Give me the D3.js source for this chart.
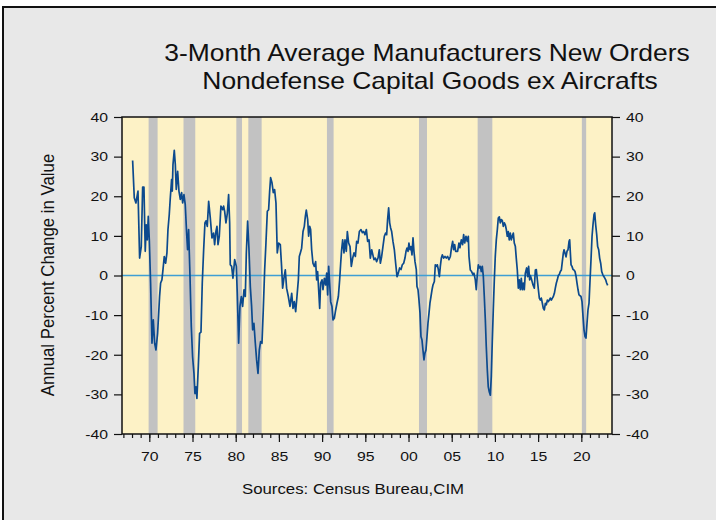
<!DOCTYPE html>
<html>
<head>
<meta charset="utf-8">
<script src="https://cdn.jsdelivr.net/npm/d3@7"></script>
<style>
  body { margin: 0; background: #fff; }
  svg { display: block; font-family: "Liberation Sans", Arial, sans-serif; }
</style>
</head>
<body>
<svg id="chart" width="716" height="520"></svg>
<script>
const years = [
  1968.07, 1968.26, 1968.45, 1968.69, 1968.88, 1969.07, 1969.23, 1969.38, 1969.53, 1969.65, 1969.77, 1969.88,
  1970.00, 1970.15, 1970.31, 1970.46, 1970.62, 1970.77, 1970.96, 1971.19, 1971.31, 1971.46, 1971.58, 1971.73,
  1971.89, 1972.04, 1972.16, 1972.31, 1972.43, 1972.58, 1972.66, 1972.74, 1972.89, 1973.01, 1973.12, 1973.28,
  1973.43, 1973.59, 1973.74, 1973.86, 1974.01, 1974.16, 1974.32, 1974.43, 1974.55, 1974.70, 1974.86, 1975.01,
  1975.17, 1975.28, 1975.40, 1975.51, 1975.67, 1975.82, 1975.98, 1976.13, 1976.29, 1976.44, 1976.56, 1976.71,
  1976.87, 1977.06, 1977.25, 1977.44, 1977.56, 1977.71, 1977.83, 1977.95, 1978.10, 1978.29, 1978.49, 1978.60,
  1978.72, 1978.87, 1979.03, 1979.18, 1979.30, 1979.37, 1979.53, 1979.68, 1979.88, 1980.07, 1980.18, 1980.34,
  1980.49, 1980.65, 1980.80, 1980.96, 1981.11, 1981.23, 1981.38, 1981.53, 1981.69, 1981.84, 1981.96, 1982.11,
  1982.27, 1982.42, 1982.58, 1982.73, 1982.88, 1983.04, 1983.19, 1983.35, 1983.50, 1983.66, 1983.81, 1983.93,
  1984.04, 1984.20, 1984.35, 1984.50, 1984.66, 1984.81, 1984.97, 1985.16, 1985.31, 1985.43, 1985.58, 1985.74,
  1985.89, 1986.09, 1986.28, 1986.48, 1986.63, 1986.78, 1986.94, 1987.09, 1987.25, 1987.36, 1987.48, 1987.63,
  1987.79, 1987.94, 1988.06, 1988.17, 1988.33, 1988.44, 1988.56, 1988.67, 1988.79, 1988.94, 1989.10, 1989.25,
  1989.37, 1989.48, 1989.60, 1989.72, 1989.83, 1989.99, 1990.10, 1990.26, 1990.41, 1990.53, 1990.64, 1990.76,
  1990.87, 1990.99, 1991.14, 1991.26, 1991.41, 1991.57, 1991.72, 1991.88, 1992.03, 1992.15, 1992.26, 1992.38,
  1992.53, 1992.65, 1992.80, 1992.92, 1993.07, 1993.23, 1993.38, 1993.54, 1993.69, 1993.85, 1994.00, 1994.15,
  1994.31, 1994.50, 1994.66, 1994.81, 1994.96, 1995.12, 1995.27, 1995.43, 1995.58, 1995.74, 1996.00, 1996.16,
  1996.31, 1996.47, 1996.62, 1996.74, 1996.89, 1997.04, 1997.20, 1997.35, 1997.47, 1997.58, 1997.70, 1997.82,
  1997.93, 1998.05, 1998.20, 1998.36, 1998.51, 1998.67, 1998.82, 1998.97, 1999.13, 1999.28, 1999.44, 1999.59,
  1999.71, 1999.82, 1999.94, 2000.05, 2000.17, 2000.29, 2000.40, 2000.52, 2000.63, 2000.75, 2000.90, 2000.98,
  2001.10, 2001.21, 2001.33, 2001.44, 2001.56, 2001.67, 2001.79, 2001.90, 2002.02, 2002.14, 2002.25, 2002.37,
  2002.48, 2002.60, 2002.72, 2002.83, 2002.99, 2003.10, 2003.22, 2003.33, 2003.45, 2003.57, 2003.68, 2003.80,
  2003.91, 2004.07, 2004.22, 2004.37, 2004.53, 2004.68, 2004.84, 2004.99, 2005.11, 2005.22, 2005.34, 2005.46,
  2005.68, 2005.84, 2005.95, 2006.11, 2006.26, 2006.38, 2006.50, 2006.65, 2006.80, 2006.92, 2007.00, 2007.15,
  2007.30, 2007.46, 2007.57, 2007.73, 2007.84, 2007.96, 2008.08, 2008.19, 2008.31, 2008.42, 2008.54, 2008.66,
  2008.77, 2008.89, 2009.00, 2009.12, 2009.23, 2009.35, 2009.47, 2009.58, 2009.70, 2009.81, 2009.93, 2010.04,
  2010.16, 2010.28, 2010.39, 2010.51, 2010.62, 2010.74, 2010.85, 2010.97, 2011.09, 2011.20, 2011.32, 2011.43,
  2011.55, 2011.66, 2011.78, 2011.90, 2012.01, 2012.13, 2012.24, 2012.36, 2012.47, 2012.59, 2012.71, 2012.82,
  2012.94, 2013.05, 2013.17, 2013.28, 2013.40, 2013.52, 2013.67, 2013.79, 2013.90, 2014.02, 2014.10, 2014.25,
  2014.41, 2014.56, 2014.68, 2014.79, 2014.91, 2015.03, 2015.14, 2015.26, 2015.37, 2015.49, 2015.60, 2015.72,
  2015.84, 2015.95, 2016.07, 2016.18, 2016.30, 2016.41, 2016.53, 2016.65, 2016.76, 2016.88, 2016.99, 2017.11,
  2017.22, 2017.34, 2017.46, 2017.57, 2017.69, 2017.80, 2017.92, 2018.00, 2018.11, 2018.23, 2018.34, 2018.46,
  2018.58, 2018.65, 2018.73, 2018.81, 2018.92, 2019.04, 2019.15, 2019.27, 2019.39, 2019.50, 2019.62, 2019.73,
  2019.85, 2019.96, 2020.08, 2020.20, 2020.31, 2020.43, 2020.54, 2020.66, 2020.77, 2020.89, 2021.01, 2021.12,
  2021.24, 2021.35, 2021.47, 2021.55, 2021.66, 2021.78, 2021.89, 2022.01, 2022.12, 2022.24, 2022.36, 2022.47,
  2022.59, 2022.70, 2022.82, 2022.93, 2023.05
];

// annual percent change in value, same order as years
const pctChange = [
  29.0, 19.6, 18.3, 21.3, 4.4, 7.3, 22.3, 22.3, 6.1, 12.8, 9.0, 14.9,
  9.0, -1.9, -17.1, -11.2, -17.1, -18.8, -14.6, -5.3, -1.9, -1.1, 1.4, 4.8,
  3.1, 5.7, 11.6, 15.4, 19.6, 24.2, 21.3, 28.0, 31.6, 28.0, 21.7, 26.3,
  21.3, 19.2, 20.9, 18.3, 20.4, 17.9, 10.7, 6.5, 11.6, 0.6, -12.9, -20.5,
  -24.7, -29.8, -28.1, -31.0, -23.0, -14.6, -14.3, -1.9, 6.5, 13.3, 13.8, 12.4,
  18.7, 14.5, 9.5, 10.7, 7.8, 11.1, 12.4, 7.8, 9.9, 17.5, 16.6, 17.5,
  16.2, 13.3, 15.7, 20.4, 13.3, 2.7, 2.3, -0.7, 4.0, 2.3, -4.5, -17.1,
  -7.8, -5.3, -7.8, -3.6, -5.3, 5.7, 13.7, 6.9, -2.8, -7.8, -13.7, -12.1,
  -17.1, -21.3, -24.7, -18.8, -16.7, -17.1, -8.7, 1.4, 8.2, 16.2, 16.6, 21.3,
  24.7, 23.4, 20.9, 21.7, 18.3, 5.7, 8.2, 7.8, 2.3, -3.2, -0.7, 1.4,
  -3.2, -5.3, -7.8, -4.5, -8.3, -6.6, -9.1, -5.3, -1.1, 4.8, 5.7, 6.9,
  11.1, 12.4, 14.9, 16.5, 14.1, 9.9, 12.4, 11.6, 6.5, 3.1, 2.3, 3.5,
  -1.1, 1.0, -3.6, -8.3, -1.9, -1.1, -3.6, -0.7, -2.4, 0.6, -4.9, 2.3,
  -1.9, -6.6, -7.8, -11.2, -10.8, -8.7, -7.0, -5.3, -1.1, 3.1, 6.5, 9.0,
  5.7, 9.0, 6.1, 11.1, 8.2, 7.3, 2.3, 4.4, 5.7, 4.8, 8.6, 8.2,
  11.1, 11.6, 10.8, 11.1, 10.3, 11.6, 8.6, 9.0, 4.4, 6.5, 4.0, 4.4,
  3.5, 4.4, 6.5, 3.1, 4.8, 7.3, 9.9, 10.7, 10.3, 14.1, 17.1, 13.3,
  12.0, 11.1, 8.6, 6.5, 3.1, -0.3, 0.6, 1.9, 1.5, 2.7, 3.1, 4.4,
  6.1, 6.9, 6.1, 8.2, 6.5, 7.3, 5.2, 9.5, 6.1, 3.5, 1.5, -2.8,
  -3.6, -6.2, -9.5, -15.4, -16.3, -18.8, -21.3, -19.6, -18.8, -15.4, -12.1, -9.5,
  -7.0, -5.3, -3.6, -2.4, -1.5, 2.7, 2.3, 2.7, 1.5, -0.3, 2.3, 4.4,
  5.2, 4.4, 4.8, 4.4, 4.8, 4.0, 4.8, 7.3, 8.6, 6.5, 7.8, 6.1,
  6.1, 8.2, 7.0, 9.0, 7.8, 10.3, 8.2, 9.9, 8.6, 9.9, 4.8, 1.4,
  1.0, 0.2, 0.6, -1.1, -3.6, 0.2, 2.7, 1.9, 2.3, 1.0, 2.3, -0.3,
  -5.3, -11.2, -18.0, -23.9, -28.1, -29.4, -30.2, -25.5, -16.3, -8.7, -1.1, 4.8,
  9.0, 11.6, 14.5, 14.8, 13.3, 14.1, 13.9, 12.4, 13.3, 12.8, 11.6, 9.9,
  11.1, 9.0, 10.7, 9.0, 9.9, 10.7, 8.2, 7.4, 4.4, 1.4, -3.2, -1.1,
  -3.6, -0.7, -3.6, -1.9, -3.6, 0.6, 1.9, -0.3, 2.3, -1.1, 0.0, -1.1,
  -2.4, -3.2, 1.4, 1.5, -1.1, -3.6, -5.7, -6.2, -5.7, -7.0, -8.3, -8.7,
  -7.0, -7.4, -6.2, -6.6, -6.2, -5.7, -6.2, -5.7, -5.3, -4.5, -3.2, -1.9,
  -1.1, 0.0, 0.3, 1.0, 1.4, 3.5, 5.7, 6.5, 5.7, 4.7, 6.1, 6.5,
  8.6, 9.0, 5.7, 2.7, 2.3, 1.5, 1.4, 1.0, -0.2, -1.9, -3.6, -4.9,
  -5.1, -5.3, -6.6, -10.4, -13.7, -15.4, -15.8, -12.0, -8.7, -7.0, -1.1, 4.0,
  9.9, 12.8, 15.4, 15.8, 12.8, 10.3, 7.3, 6.5, 4.4, 3.1, 1.0, 0.3,
  -0.2, -0.6, -1.1, -1.9, -2.5
];

// shaded recession periods (start / end, decimal years)
const recessionStart = [1969.92, 1973.96, 1980.07, 1981.46, 1990.56, 2001.21, 2008.0, 2020.06];
const recessionEnd   = [1970.96, 1975.32, 1980.73, 1983.0, 1991.33, 2002.14, 2009.7, 2020.56];

const yTicks = [-40, -30, -20, -10, 0, 10, 20, 30, 40];
const xMajorYears = [1970, 1975, 1980, 1985, 1990, 1995, 2000, 2005, 2010, 2015, 2020];
const xTickLabels = ["70", "75", "80", "85", "90", "95", "00", "05", "10", "15", "20"];
const xMinorYears = d3.range(1967, 2024);

const titleLines = ["3-Month Average Manufacturers New Orders", "Nondefense Capital Goods ex Aircrafts"];

const svg = d3.select("#chart");
const margin = { top: 117, right: 104, bottom: 86, left: 122 };
const width = +svg.attr("width");
const height = +svg.attr("height");
const stretch = 1.17; // the original picture is a bit wider than tall, text included

// outer frame
svg.append("rect")
  .attr("x", 3).attr("y", 7)
  .attr("width", width + 10).attr("height", height + 10)
  .attr("fill", "#e8e8e8")
  .attr("stroke", "#111")
  .attr("stroke-width", 2);

const xScale = d3.scaleLinear().domain([1966.84, 2023.55]).range([margin.left, width - margin.right]);
const yScale = d3.scaleLinear().domain([-40, 40]).range([height - margin.bottom, margin.top]);

// plot background
svg.append("rect")
  .attr("x", margin.left).attr("y", margin.top)
  .attr("width", xScale.range()[1] - margin.left)
  .attr("height", yScale.range()[0] - margin.top)
  .attr("fill", "#fdf2c6");

// recession bars
svg.append("g")
  .selectAll("rect")
  .data(recessionStart)
  .join("rect")
  .attr("x", d => xScale(d))
  .attr("y", margin.top)
  .attr("width", (d, i) => xScale(recessionEnd[i]) - xScale(d))
  .attr("height", yScale(-40) - yScale(40))
  .attr("fill", "#c2c2c2");

// zero line
svg.append("line")
  .attr("x1", xScale.range()[0]).attr("x2", xScale.range()[1])
  .attr("y1", yScale(0)).attr("y2", yScale(0))
  .attr("stroke", "#3f9fd4")
  .attr("stroke-width", 1.5);

// series
const series = years.map((y, i) => ({ t: y, v: pctChange[i] }));
svg.append("path")
  .datum(series)
  .attr("fill", "none")
  .attr("stroke", "#0c4a8e")
  .attr("stroke-width", 1.7)
  .attr("stroke-linejoin", "round")
  .attr("d", d3.line().x(d => xScale(d.t)).y(d => yScale(d.v)));

// axes
const tickFont = "13.5px";
const plain = d => String(d); // hyphen, not the unicode minus
const leftAxis = svg.append("g")
  .attr("transform", `translate(${margin.left},0)`)
  .call(d3.axisLeft(yScale).tickValues(yTicks).tickSize(8).tickPadding(4).tickFormat(plain));
const rightAxis = svg.append("g")
  .attr("transform", `translate(${xScale.range()[1]},0)`)
  .call(d3.axisRight(yScale).tickValues(yTicks).tickSize(8).tickPadding(4).tickFormat(plain));
const bottomMinor = svg.append("g")
  .attr("transform", `translate(0,${yScale(-40)})`)
  .call(d3.axisBottom(xScale).tickValues(xMinorYears).tickSize(4).tickFormat(""));
const bottomAxis = svg.append("g")
  .attr("transform", `translate(0,${yScale(-40)})`)
  .call(d3.axisBottom(xScale).tickValues(xMajorYears).tickSize(8).tickPadding(9.5)
    .tickFormat((d, i) => xTickLabels[i]));

[leftAxis, rightAxis, bottomMinor, bottomAxis].forEach(g => {
  g.select(".domain").remove();
  g.selectAll("line").attr("stroke", "#111").attr("stroke-width", 1.2);
  g.selectAll("text")
    .attr("fill", "#111")
    .attr("transform", `scale(${stretch},1)`)
    .style("font-size", tickFont)
    .style("font-family", '"Liberation Sans", Arial, sans-serif');
});

// plot border
svg.append("rect")
  .attr("x", margin.left).attr("y", margin.top)
  .attr("width", xScale.range()[1] - margin.left)
  .attr("height", yScale.range()[0] - margin.top)
  .attr("fill", "none")
  .attr("stroke", "#111")
  .attr("stroke-width", 1.5);

// title
svg.append("text")
  .attr("transform", `translate(427,61) scale(1.15,1)`)
  .attr("text-anchor", "middle")
  .style("font-size", "23px")
  .attr("fill", "#111")
  .text(titleLines[0]);
svg.append("text")
  .attr("transform", `translate(430,89) scale(1.15,1)`)
  .attr("text-anchor", "middle")
  .style("font-size", "23px")
  .attr("fill", "#111")
  .text(titleLines[1]);

// y label
svg.append("text")
  .attr("transform", `translate(54,275) scale(1.05,1) rotate(-90)`)
  .attr("text-anchor", "middle")
  .style("font-size", "16.8px")
  .attr("fill", "#111")
  .text("Annual Percent Change in Value");

// source note
svg.append("text")
  .attr("transform", `translate(353,494) scale(1.2,1)`)
  .attr("text-anchor", "middle")
  .style("font-size", "14px")
  .attr("fill", "#111")
  .text("Sources: Census Bureau,CIM");
</script>
</body>
</html>
